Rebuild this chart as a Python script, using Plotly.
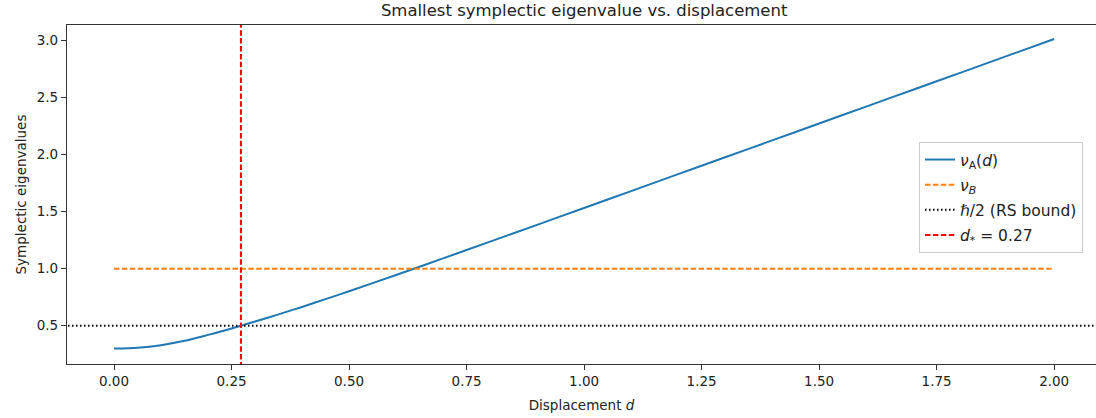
import plotly.graph_objects as go

# ---- data ----
d_values = [0.00, 0.05, 0.10, 0.15, 0.20, 0.25, 0.30, 0.35, 0.40, 0.45, 0.50,
            0.60, 0.70, 0.80, 0.90, 1.00, 1.10, 1.20, 1.30, 1.40, 1.50, 1.60,
            1.70, 1.80, 1.90, 2.00]
nu_A = [0.300, 0.308, 0.330, 0.368, 0.420, 0.476, 0.537, 0.600, 0.665, 0.733,
        0.802, 0.945, 1.090, 1.237, 1.384, 1.532, 1.680, 1.828, 1.976, 2.124,
        2.272, 2.420, 2.568, 2.716, 2.864, 3.012]
nu_B = 1.0
hbar_half = 0.5
d_star = 0.27

x_ticks = [0.0, 0.25, 0.5, 0.75, 1.0, 1.25, 1.5, 1.75, 2.0]
x_tick_text = ["0.00", "0.25", "0.50", "0.75", "1.00", "1.25", "1.50", "1.75", "2.00"]
y_ticks = [0.5, 1.0, 1.5, 2.0, 2.5, 3.0]
y_tick_text = ["0.5", "1.0", "1.5", "2.0", "2.5", "3.0"]

x_range = [-0.1, 2.089]
y_range = [0.165, 3.135]

FONT = "DejaVu Sans, Liberation Sans, sans-serif"

fig = go.Figure()
fig.add_trace(go.Scatter(
    x=d_values, y=nu_A, mode="lines", name="<i>ν</i><sub>A</sub>(<i>d</i>)",
    legendgroup="a",
    line=dict(color="#1f77b4", width=2, shape="spline", smoothing=0.8)))
fig.add_trace(go.Scatter(
    x=[d_values[0], d_values[-1]], y=[nu_B, nu_B], mode="lines",
    name="<i>ν</i><sub><i>B</i></sub>", legendgroup="b",
    line=dict(color="#ff7f0e", width=2, dash="5.5px,2.4px")))
fig.add_trace(go.Scatter(
    x=[x_range[0] - 0.1, x_range[1] + 0.1], y=[hbar_half, hbar_half], mode="lines",
    name="<i>ℏ</i>/2 (RS bound)", legendgroup="c",
    line=dict(color="black", width=2, dash="1.5px,2.5px")))
fig.add_trace(go.Scatter(
    x=[d_star, d_star], y=[y_range[0] - 0.1, y_range[1] + 0.1], mode="lines",
    name="<i>d</i><sub>*</sub> = 0.27", legendgroup="d",
    line=dict(color="red", width=2, dash="5.5px,2.4px")))

fig.update_layout(
    width=1096, height=418,
    margin=dict(l=67, r=0, t=25, b=54),
    paper_bgcolor="white", plot_bgcolor="white",
    font=dict(family=FONT, size=13.5, color="#222"),
    title=dict(text="Smallest symplectic eigenvalue vs. displacement",
               x=0.533, xref="container", xanchor="center",
               y=0.976, yref="container", yanchor="middle",
               font=dict(size=16.5, color="#222")),
    showlegend=True,
    legend=dict(x=0.828, y=0.655, xanchor="left", yanchor="top",
                bgcolor="rgba(255,255,255,0.8)", bordercolor="#cccccc",
                borderwidth=1, font=dict(size=15.5), tracegroupgap=2,
                itemwidth=30),
)
fig.update_xaxes(range=x_range, tickvals=x_ticks, ticktext=x_tick_text,
                 showgrid=False, zeroline=False, showline=True, linecolor="#333",
                 linewidth=1.2, mirror=True, ticks="outside", ticklen=5,
                 tickcolor="#333",
                 title=dict(text="Displacement <i>d</i>", standoff=12,
                            font=dict(size=13.5)))
fig.update_yaxes(range=y_range, tickvals=y_ticks, ticktext=y_tick_text,
                 showgrid=False, zeroline=False, showline=True, linecolor="#333",
                 linewidth=1.2, ticks="outside", ticklen=5, tickcolor="#333",
                 title=dict(text="Symplectic eigenvalues", standoff=6,
                            font=dict(size=13.5)))

fig.write_html("out.html",
               config={"displayModeBar": False},
               post_script="document.body.style.margin='0';"
                           "document.body.style.overflow='hidden';")
